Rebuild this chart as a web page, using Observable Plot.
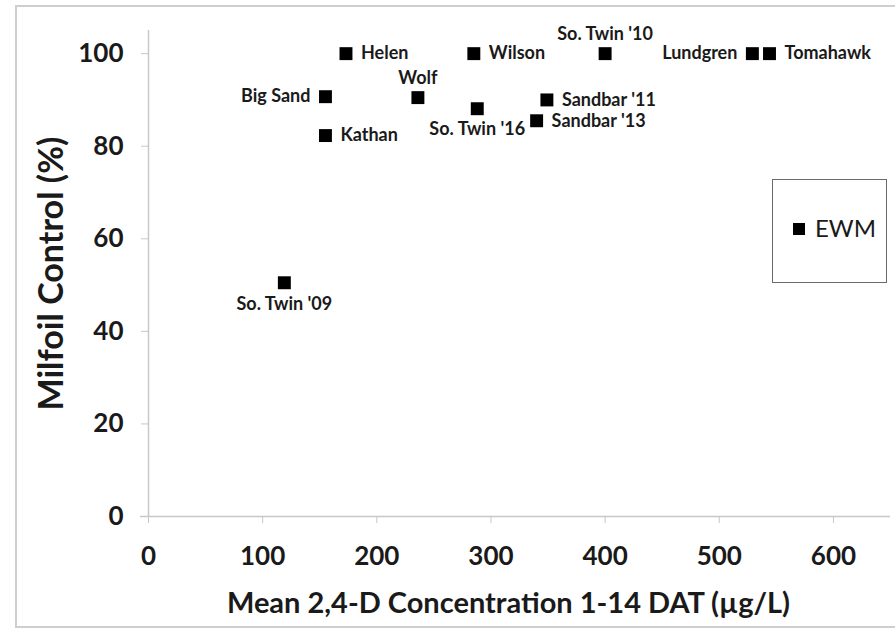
<!DOCTYPE html>
<html>
<head>
<meta charset="utf-8">
<script src="https://cdn.jsdelivr.net/npm/d3@7"></script>
<script src="https://cdn.jsdelivr.net/npm/@observablehq/plot@0.6"></script>
<style>
  html, body { margin: 0; padding: 0; background: #fff; }
  #wrap { position: relative; width: 895px; height: 631px; overflow: hidden; }
  #border { position: absolute; left: 15px; top: 5px; width: 900px; height: 623px;
            border: 2px solid #cfcfcf; box-sizing: border-box; pointer-events: none; }
  #legend { position: absolute; left: 772px; top: 179px; width: 115px; height: 104px;
            border: 1.5px solid #6a6a6a; box-sizing: border-box; background: #fff;
            font-family: Lato, sans-serif; font-size: 24px; color: #1a1a1a; }
  #legend .key { position: absolute; left: 20px; top: 43px; width: 12px; height: 12px; background: #000; }
  #legend .txt { position: absolute; left: 42px; top: 34px; line-height: 28px; }
  svg { font-family: Lato, sans-serif; }
</style>
</head>
<body>
<div id="wrap">
  <div id="border"></div>
</div>
<script>
// Lakes treated with 2,4-D: mean concentration 1–14 days after treatment vs. milfoil control
const sites = ["Helen", "Big Sand", "Kathan", "Wolf", "So. Twin '09", "Wilson", "So. Twin '10",
               "Lundgren", "Tomahawk", "So. Twin '16", "Sandbar '11", "Sandbar '13"];
const concentration = [173, 155, 155, 236, 119, 285, 400, 529, 544, 288, 349, 340];
const control = [100, 90.7, 82.3, 90.5, 50.5, 100, 100, 100, 100, 88.1, 90, 85.5];
const xTicks = [0, 100, 200, 300, 400, 500, 600];
const yTicks = [0, 20, 40, 60, 80, 100];
const seriesName = "EWM";

const data = sites.map((site, i) => ({site, conc: concentration[i], pct: control[i]}));

// where each site's label sits relative to its marker
const placeRight = new Set(["Helen", "Kathan", "Wilson", "Tomahawk", "Sandbar '11", "Sandbar '13"]);
const placeLeft = new Set(["Big Sand", "Lundgren"]);
const placeAbove = new Set(["Wolf", "So. Twin '10"]);
const placeBelow = new Set(["So. Twin '09", "So. Twin '16"]);

const labelStyle = {x: "conc", y: "pct", text: "site", fontSize: 18, fontWeight: "bold", fill: "#1a1a1a"};
const axisGray = "#c8c8c8";

const chart = Plot.plot({
  width: 895,
  height: 631,
  marginLeft: 148,
  marginRight: 5,
  marginTop: 30,
  marginBottom: 115,
  style: {background: "transparent", overflow: "visible"},
  x: {domain: [0, 650]},
  y: {domain: [0, 105]},
  marks: [
    Plot.ruleY([0], {stroke: axisGray, strokeWidth: 1.5, x1: -7, x2: 650}),
    Plot.ruleX([0], {stroke: axisGray, strokeWidth: 1.5}),
    Plot.axisX({ticks: xTicks, tickSize: 7, tickPadding: 23, stroke: axisGray, label: null,
                fontSize: 26, fontWeight: "bold", fill: "#1a1a1a"}),
    Plot.axisY({ticks: yTicks, tickSize: 7, tickPadding: 18, stroke: axisGray, label: null,
                fontSize: 26, fontWeight: "bold", fill: "#1a1a1a"}),
    Plot.text(["Mean 2,4-D Concentration 1-14 DAT (µg/L)"], {frameAnchor: "bottom", dy: 96, dx: -11,
                fontSize: 29, fontWeight: "bold", fill: "#1a1a1a"}),
    Plot.text(["Milfoil Control (%)"], {frameAnchor: "left", textAnchor: "middle", dx: -96, rotate: -90,
                fontSize: 34, fontWeight: "bold", fill: "#1a1a1a"}),
    Plot.dot(data, {x: "conc", y: "pct", symbol: "square", r: 7.3, fill: "#000", stroke: null}),
    Plot.text(data.filter(d => placeRight.has(d.site)), {...labelStyle, textAnchor: "start", dx: 15}),
    Plot.text(data.filter(d => placeLeft.has(d.site)), {...labelStyle, textAnchor: "end", dx: -15}),
    Plot.text(data.filter(d => placeAbove.has(d.site)), {...labelStyle, dy: -19}),
    Plot.text(data.filter(d => placeBelow.has(d.site)), {...labelStyle, dy: 21})
  ]
});

const wrap = document.getElementById("wrap");
wrap.insertBefore(chart, wrap.firstChild);
chart.style.position = "absolute";
chart.style.left = "0px";
chart.style.top = "0px";

// series key box
const legend = d3.select(wrap).append("div").attr("id", "legend");
legend.append("div").attr("class", "key");
legend.append("div").attr("class", "txt").text(seriesName);
</script>
</body>
</html>
